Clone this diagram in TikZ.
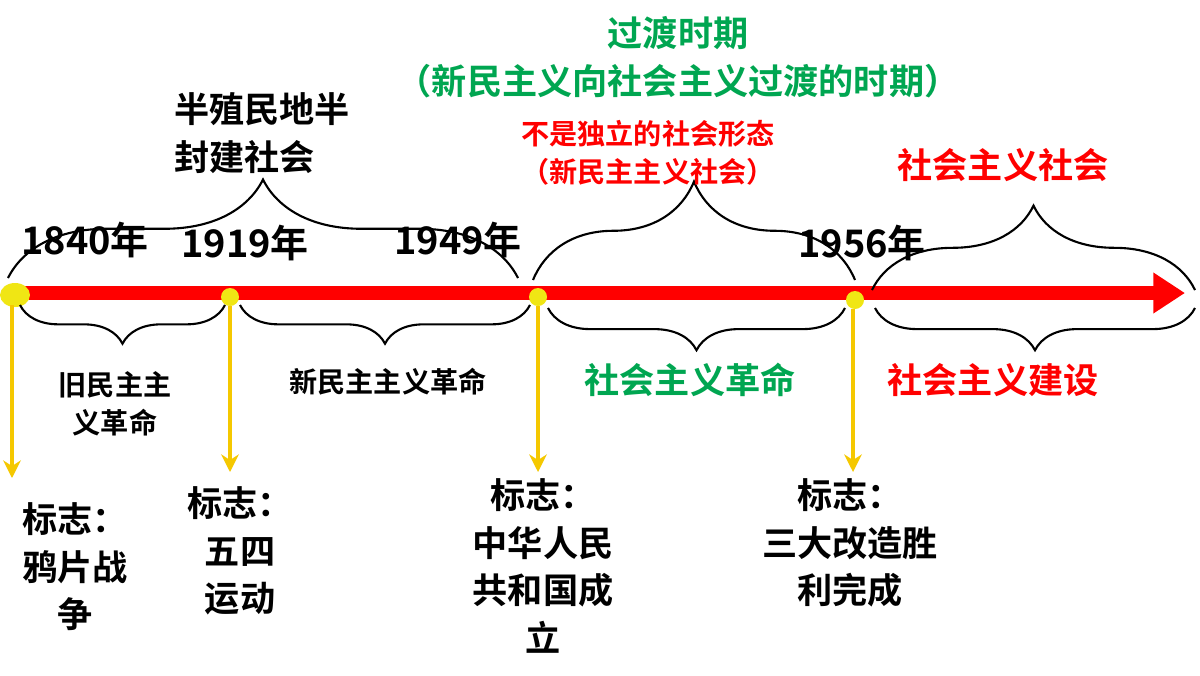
\documentclass[tikz,border=0pt]{standalone}
\usepackage{fontspec}
\setmainfont{Noto Sans CJK SC Bold}
\usetikzlibrary{decorations.pathreplacing,arrows.meta}
\definecolor{zred}{RGB}{255,0,0}
\definecolor{zgreen}{RGB}{0,166,81}
\definecolor{zyel}{RGB}{245,200,0}
\definecolor{zdot}{RGB}{240,230,20}
\tikzset{
  yr/.style={font=\fontsize{10.8}{12}\selectfont},
  big/.style={font=\fontsize{10}{13.5}\selectfont,align=center},
  mid/.style={font=\fontsize{8}{10.8}\selectfont,align=center},
  brc/.style={decorate,decoration={brace,amplitude=#1},line width=0.6pt},
  signarrow/.style={zyel,line width=1.1pt,-{Stealth[length=5pt,width=5pt]}},
  dot/.style={fill=zdot,draw=none}
}
\begin{document}
\begin{tikzpicture}[x=0.01cm,y=-0.01cm]
  \useasboundingbox[fill=white] (0,0) rectangle (1200,675);
  % timeline
  \coordinate (s) at (8,293);
  \coordinate (e) at (1185,293);
  \draw[zred,line width=4.2pt,-{Triangle[length=9pt,width=11pt]}] (s) -- (e);
  % dots
  \fill[dot] (15,295) ellipse [x radius=15,y radius=12];
  \fill[dot] (230,297) circle [radius=9];
  \fill[dot] (538,297) circle [radius=9];
  \fill[dot] (855,300) circle [radius=9];
  % years
  \node[yr] (y1840) at (85,240) {1840年};
  \node[yr] (y1919) at (245,243) {1919年};
  \node[yr] (y1949) at (458,240) {1949年};
  \node[yr] (y1956) at (862,243) {1956年};
  % upper braces
  \draw[brc=28pt] (8,278) -- (518,278);
  \draw[brc=28pt] (533,280) -- (855,280);
  \draw[brc=24pt] (872,290) -- (1195,290);
  % lower braces
  \draw[brc=11pt] (225,305) -- (20,305);
  \draw[brc=11pt] (530,305) -- (240,305);
  \draw[brc=12pt] (845,308) -- (548,308);
  \draw[brc=12pt] (1195,308) -- (875,308);
  % top labels
  \node[big,align=left] (semi) at (262,133) {半殖民地半\\封建社会};
  \node[big,text=zgreen] (trans) at (678,57) {过渡时期\\（新民主义向社会主义过渡的时期）};
  \node[mid,text=zred] (notind) at (648,153) {不是独立的社会形态\\（新民主主义社会）};
  \node[big,text=zred] (soc) at (1003,165) {社会主义社会};
  % lower labels
  \node[mid] (oldrev) at (115,404) {旧民主主\\义革命};
  \node[mid] (newrev) at (388,382) {新民主主义革命};
  \node[big,text=zgreen] (socrev) at (690,380) {社会主义革命};
  \node[big,text=zred] (socbld) at (993,380) {社会主义建设};
  % marks
  \coordinate (m1) at (12,478);
  \coordinate (m2) at (230,472);
  \coordinate (m3) at (538,472);
  \coordinate (m4) at (853,472);
  \draw[signarrow] (12,305) -- (m1);
  \draw[signarrow] (230,306) -- (m2);
  \draw[signarrow] (538,306) -- (m3);
  \draw[signarrow] (853,309) -- (m4);
  \node[big] (opium) at (75,567) {标志：\\鸦片战\\争};
  \node[big] (may4) at (240,551) {标志：\\五四\\运动};
  \node[big] (prc) at (543,566) {标志：\\中华人民\\共和国成\\立};
  \node[big] (three) at (850,543) {标志：\\三大改造胜\\利完成};
\end{tikzpicture}
\end{document}
